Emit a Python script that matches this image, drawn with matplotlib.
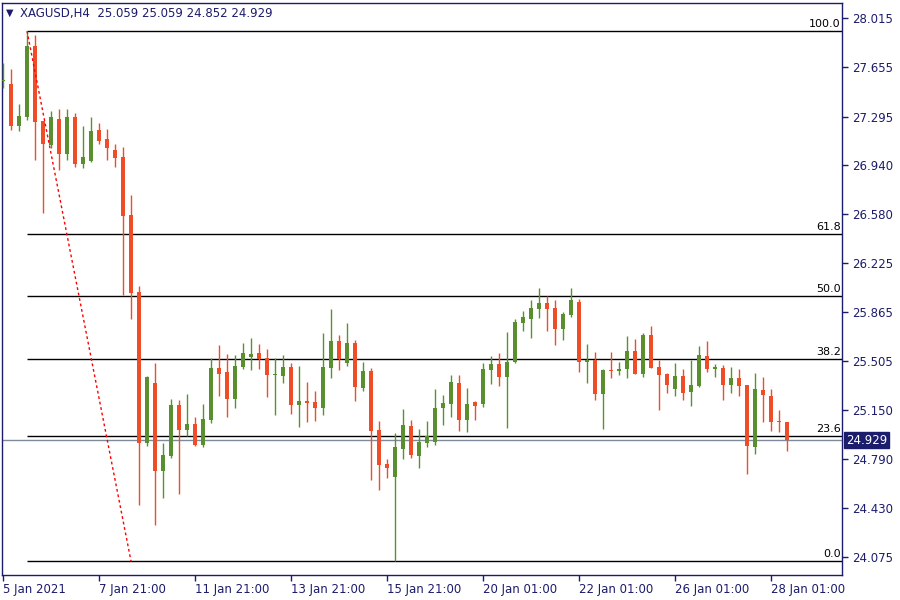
import matplotlib
matplotlib.use("Agg")
import matplotlib.pyplot as plt
import numpy as np

# XAGUSD H4 candles
opens = [27.555, 27.533, 27.226, 27.291, 27.810, 27.262, 27.087, 27.277, 27.021, 27.291,
         26.948, 26.970, 27.196, 27.131, 27.050, 26.999, 26.575, 26.012, 24.908, 25.347,
         24.704, 24.813, 25.186, 25.003, 25.047, 24.894, 25.077, 25.457, 25.427, 25.230,
         25.464, 25.537, 25.566, 25.530, 25.405, 25.398, 25.464, 25.186, 25.215, 25.208,
         25.164, 25.457, 25.654, 25.493, 25.639, 25.310, 25.435, 25.003, 24.755, 24.660,
         24.864, 25.033, 24.813, 24.908, 24.916, 25.164, 25.193, 25.347, 25.077, 25.208,
         25.193, 25.442, 25.486, 25.391, 25.500, 25.785, 25.815, 25.888, 25.932, 25.895,
         25.742, 25.844, 25.939, 25.500, 25.515, 25.267, 25.440, 25.435, 25.449, 25.581,
         25.413, 25.698, 25.464, 25.413, 25.303, 25.398, 25.281, 25.325, 25.544, 25.449,
         25.457, 25.332, 25.384, 25.332, 24.879, 25.296, 25.252, 25.069, 25.059]
highs = [27.686, 27.642, 27.386, 27.920, 27.891, 27.262, 27.335, 27.350, 27.350, 27.321,
         27.226, 27.291, 27.248, 27.204, 27.094, 27.072, 26.721, 26.056, 25.398, 25.493,
         24.908, 25.230, 25.223, 25.267, 25.098, 25.193, 25.530, 25.625, 25.559, 25.552,
         25.639, 25.676, 25.632, 25.595, 25.530, 25.552, 25.493, 25.471, 25.354, 25.289,
         25.712, 25.888, 25.698, 25.785, 25.661, 25.500, 25.457, 25.069, 24.791, 24.981,
         25.157, 25.077, 25.011, 25.069, 25.303, 25.259, 25.405, 25.405, 25.310, 25.215,
         25.493, 25.544, 25.566, 25.720, 25.815, 25.873, 25.954, 26.041, 25.983, 25.954,
         25.866, 26.041, 25.961, 25.632, 25.574, 25.449, 25.574, 25.500, 25.690, 25.669,
         25.712, 25.763, 25.515, 25.420, 25.493, 25.449, 25.515, 25.617, 25.654, 25.486,
         25.478, 25.464, 25.449, 25.332, 25.420, 25.391, 25.303, 25.149, 25.059]
lows = [27.503, 27.196, 27.189, 27.269, 26.977, 26.590, 27.065, 26.904, 26.977, 26.926,
        26.919, 26.965, 27.094, 26.977, 26.926, 25.990, 25.815, 24.455, 24.886, 24.309,
        24.506, 24.799, 24.535, 24.959, 24.890, 24.879, 25.055, 25.252, 25.098, 25.164,
        25.449, 25.442, 25.449, 25.245, 25.113, 25.347, 25.120, 25.025, 25.062, 25.069,
        25.113, 25.384, 25.442, 25.471, 25.215, 25.289, 24.638, 24.565, 24.653, 24.045,
        24.791, 24.799, 24.726, 24.879, 24.894, 25.040, 25.098, 24.996, 24.989, 25.077,
        25.171, 25.340, 25.325, 25.018, 25.493, 25.727, 25.676, 25.822, 25.727, 25.625,
        25.661, 25.829, 25.427, 25.347, 25.223, 25.011, 25.384, 25.405, 25.384, 25.410,
        25.391, 25.455, 25.149, 25.274, 25.252, 25.223, 25.179, 25.318, 25.427, 25.391,
        25.223, 25.274, 25.252, 24.682, 24.828, 25.062, 24.996, 24.989, 24.852]
closes = [27.562, 27.226, 27.299, 27.810, 27.255, 27.094, 27.291, 27.021, 27.291, 26.948,
          26.999, 27.189, 27.116, 27.065, 26.991, 26.568, 26.005, 24.908, 25.391, 24.704,
          24.821, 25.186, 25.003, 25.047, 24.894, 25.084, 25.457, 25.413, 25.230, 25.471,
          25.566, 25.559, 25.522, 25.405, 25.413, 25.464, 25.186, 25.215, 25.201, 25.164,
          25.464, 25.654, 25.522, 25.639, 25.318, 25.435, 24.996, 24.748, 24.726, 24.879,
          25.040, 24.821, 24.916, 24.959, 25.164, 25.201, 25.354, 25.077, 25.193, 25.179,
          25.449, 25.486, 25.391, 25.500, 25.793, 25.829, 25.895, 25.932, 25.888, 25.742,
          25.851, 25.954, 25.500, 25.515, 25.267, 25.442, 25.432, 25.449, 25.581, 25.413,
          25.698, 25.457, 25.405, 25.332, 25.398, 25.274, 25.332, 25.552, 25.449, 25.464,
          25.332, 25.384, 25.325, 24.886, 25.303, 25.259, 25.062, 25.059, 24.929]

price_ticks = [28.015, 27.655, 27.295, 26.940, 26.580, 26.225, 25.865, 25.505,
               25.150, 24.790, 24.430, 24.075]
time_ticks = [0, 12, 24, 36, 48, 60, 72, 84, 96]
time_labels = ["5 Jan 2021", "7 Jan 21:00", "11 Jan 21:00", "13 Jan 21:00", "15 Jan 21:00",
               "20 Jan 01:00", "22 Jan 01:00", "26 Jan 01:00", "28 Jan 01:00"]

# fibonacci retracement
fib_start, fib_end = 3, 16
fib_high, fib_low = 27.920, 24.045
fib_levels = [100.0, 61.8, 50.0, 38.2, 23.6, 0.0]
last_price = 24.929

navy = "#1c1c6c"
bull = "#5a8f30"
bear = "#ef4d27"

fig = plt.figure(figsize=(9, 6), dpi=100)
ax = fig.add_axes([2 / 900, 25 / 600, 840 / 900, 572 / 600])

x = np.arange(len(opens))
o = np.array(opens); h = np.array(highs); l = np.array(lows); c = np.array(closes)
up = c >= o
cols = np.where(up, bull, bear)

ax.vlines(x, l, h, colors=cols, linewidth=1, zorder=3)
body_lo = np.minimum(o, c)
body_h = np.maximum(np.abs(c - o), 0.007)
ax.bar(x, body_h, bottom=body_lo, width=0.62, color=cols, linewidth=0, zorder=4)

# fib levels
for lv in fib_levels:
    p = fib_low + (fib_high - fib_low) * lv / 100
    ax.hlines(p, fib_start, 200, color="black", linewidth=1, zorder=2)
    ax.text(104.7, p + 0.012, "%.1f" % lv, ha="right", va="bottom", fontsize=8, color="black")
ax.plot([fib_start, fib_end], [fib_high, fib_low], color="red", linewidth=1,
        linestyle=(0, (2, 2)), zorder=5)

# current price
ax.axhline(last_price, color="#7d8c9c", linewidth=1, zorder=1)
ax.annotate("%.3f" % last_price, xy=(1.0, last_price), xycoords=("axes fraction", "data"),
            xytext=(3, 0), textcoords="offset points", ha="left", va="center",
            fontsize=8.5, color="white", annotation_clip=False,
            bbox=dict(boxstyle="square,pad=0.15", fc=navy, ec=navy))

ax.set_xlim(-0.125, 104.875)
ax.set_ylim(23.9435, 28.1247)

ax.yaxis.tick_right()
ax.set_yticks(price_ticks)
ax.set_yticklabels(["%.3f" % v for v in price_ticks])
ax.set_xticks(time_ticks)
ax.set_xticklabels(time_labels, ha="left")
ax.tick_params(axis="both", colors=navy, labelcolor=navy, labelsize=8.5, length=4, width=1)
ax.tick_params(axis="x", pad=2)
ax.tick_params(axis="y", pad=3)
for s in ax.spines.values():
    s.set_color(navy)
    s.set_linewidth(1)

fig.text(6 / 900, 1 - 13 / 600, "\u25bc", fontsize=7, color=navy, va="center")
fig.text(20 / 900, 1 - 13 / 600, "XAGUSD,H4  25.059 25.059 24.852 24.929",
         fontsize=8.5, color=navy, va="center")

fig.savefig("out.png", dpi=100)
